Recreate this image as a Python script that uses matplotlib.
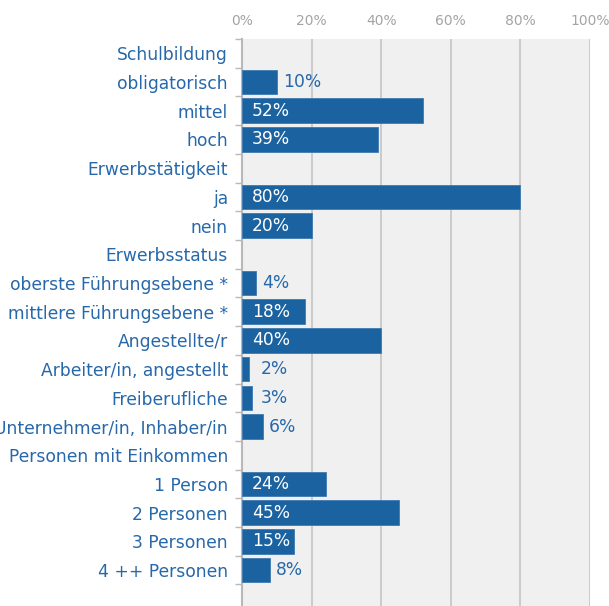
import numpy as np
import matplotlib.pyplot as plt

# Categories (headers have no value)
labels = ["Schulbildung", "obligatorisch", "mittel", "hoch",
          "Erwerbstätigkeit", "ja", "nein",
          "Erwerbsstatus", "oberste Führungsebene *", "mittlere Führungsebene *",
          "Angestellte/r", "Arbeiter/in, angestellt", "Freiberufliche",
          "Unternehmer/in, Inhaber/in",
          "Personen mit Einkommen", "1 Person", "2 Personen", "3 Personen",
          "4 ++ Personen"]
values = [None, 10, 52, 39,
          None, 80, 20,
          None, 4, 18, 40, 2, 3, 6,
          None, 24, 45, 15, 8]
xticks = [0, 20, 40, 60, 80, 100]
xticklabels = ["0%", "20%", "40%", "60%", "80%", "100%"]

bar_color = "#1b62a1"
text_blue = "#2768aa"

fig = plt.figure(figsize=(6.09, 6.06), dpi=100)
ax = fig.add_axes([242 / 609, 0, 348 / 609, 1 - 39 / 606])
ax.set_facecolor("#eff0ef")

y = np.arange(len(labels))
for i, v in enumerate(values):
    if v is None:
        continue
    ax.barh(i, v, height=0.86, color=bar_color, edgecolor="#3f7ab2",
            linewidth=0.6, zorder=3)
    if v >= 15:
        ax.text(2.9, i, f"{v}%", color="white", fontsize=12.3,
                va="center", ha="left", zorder=4)
    else:
        ax.text(max(v, 3.5) + 1.8, i, f"{v}%", color=text_blue, fontsize=12.3,
                va="center", ha="left", zorder=4)

ax.set_xlim(0, 100)
ax.set_ylim(19.25, -0.5)

ax.xaxis.tick_top()
ax.set_xticks(xticks)
ax.set_xticklabels(xticklabels, color="#a4a4a4", fontsize=10)
ax.tick_params(axis="x", length=0, pad=8)
ax.grid(axis="x", color="#c4c4c4", linewidth=1.2, zorder=1)

ax.set_yticks(y)
ax.set_yticklabels(labels, color=text_blue, fontsize=12.3)
ax.tick_params(axis="y", which="major", length=0, pad=10)
ax.set_yticks(np.arange(-0.5, len(labels), 1), minor=True)
ax.tick_params(axis="y", which="minor", length=5, color="#b8b8b8", width=1)

for s in ["top", "right", "bottom"]:
    ax.spines[s].set_visible(False)
ax.spines["left"].set_color("#b8b8b8")
ax.spines["left"].set_linewidth(1.5)

fig.savefig("out.png", dpi=100)
